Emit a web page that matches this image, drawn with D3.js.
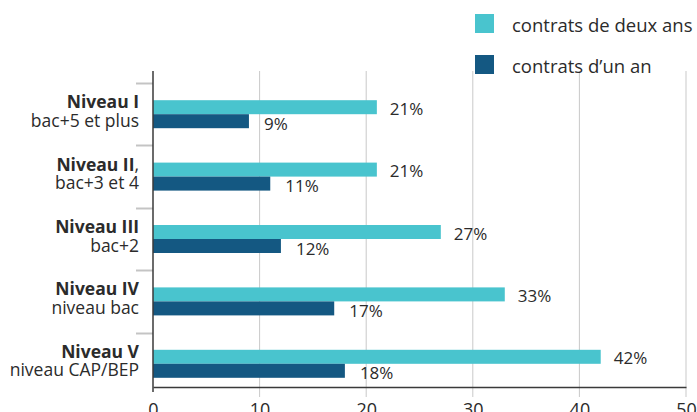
<!DOCTYPE html>
<html>
<head>
<meta charset="utf-8">
<script src="https://cdn.jsdelivr.net/npm/d3@7/dist/d3.min.js"></script>
<style>
  html, body { margin: 0; padding: 0; background: #fff; }
  svg { display: block; font-family: "Open Sans", "Noto Sans", sans-serif; }
</style>
</head>
<body>
<svg id="chart" width="697" height="412"></svg>
<script>
// Niveaux de formation (titre en gras + précision)
const levels = ["Niveau I", "Niveau II", "Niveau III", "Niveau IV", "Niveau V"];
const levelNotes = ["bac+5 et plus", "bac+3 et 4", "bac+2", "niveau bac", "niveau CAP/BEP"];
const levelSuffix = ["", ",", "", "", ""];

// Parts (%) par durée de contrat
const twoYears = [21, 21, 27, 33, 42];
const oneYear = [9, 11, 12, 17, 18];

const seriesNames = ["contrats de deux ans", "contrats d\u2019un an"];
const seriesColors = ["#49c4ce", "#145882"];

const xTicks = [0, 10, 20, 30, 40, 50];

const svg = d3.select("#chart");

const plot = { left: 153, right: 686, top: 71, bottom: 387 };

const x = d3.scaleLinear().domain([0, 50]).range([plot.left, plot.right]);
const y = d3.scaleBand().domain(levels).range([83, 395]);
const barH = 14;

// Vertical grid lines (they also serve as tick marks below the axis)
svg.append("g")
  .selectAll("line")
  .data(xTicks.slice(1))
  .join("line")
  .attr("x1", d => x(d)).attr("x2", d => x(d))
  .attr("y1", plot.top).attr("y2", plot.bottom + 10)
  .attr("stroke", "#c9c9c9").attr("stroke-width", 1);

// Category separators to the left of the y axis
svg.append("g")
  .selectAll("line")
  .data(levels)
  .join("line")
  .attr("x1", plot.left - 17).attr("x2", plot.left)
  .attr("y1", d => Math.round(y(d)) + 0.5).attr("y2", d => Math.round(y(d)) + 0.5)
  .attr("stroke", "#c4c4c4").attr("stroke-width", 2);

// Bars
const rows = levels.map((lv, i) => ({ lv, two: twoYears[i], one: oneYear[i] }));
const g = svg.append("g");
g.selectAll("rect.two")
  .data(rows)
  .join("rect")
  .attr("class", "two")
  .attr("x", x(0))
  .attr("y", d => y(d.lv) + y.bandwidth() / 2 - barH)
  .attr("width", d => x(d.two) - x(0))
  .attr("height", barH)
  .attr("fill", seriesColors[0]);
g.selectAll("rect.one")
  .data(rows)
  .join("rect")
  .attr("class", "one")
  .attr("x", x(0))
  .attr("y", d => y(d.lv) + y.bandwidth() / 2)
  .attr("width", d => x(d.one) - x(0))
  .attr("height", barH)
  .attr("fill", seriesColors[1]);

// Value labels
g.selectAll("text.two")
  .data(rows)
  .join("text")
  .attr("class", "two")
  .attr("x", d => x(d.two) + 13)
  .attr("y", d => y(d.lv) + y.bandwidth() / 2 - barH / 2 + 1)
  .attr("dominant-baseline", "central")
  .attr("font-size", 17)
  .attr("fill", "#2b2b2b")
  .text(d => d.two + "%");
g.selectAll("text.one")
  .data(rows)
  .join("text")
  .attr("class", "one")
  .attr("x", d => x(d.one) + 15)
  .attr("y", d => y(d.lv) + y.bandwidth() / 2 + barH / 2 + 2)
  .attr("dominant-baseline", "central")
  .attr("font-size", 17)
  .attr("fill", "#2b2b2b")
  .text(d => d.one + "%");

// Category labels
const labels = svg.append("g")
  .selectAll("text")
  .data(levels)
  .join("text")
  .attr("text-anchor", "end")
  .attr("font-size", 17.5)
  .attr("fill", "#2b2b2b");
labels.append("tspan")
  .attr("x", 139)
  .attr("y", d => y(d) + y.bandwidth() / 2 - 6)
  .attr("font-weight", "bold")
  .text(d => d)
  .append("tspan")
  .attr("font-weight", "normal")
  .text((d, i) => levelSuffix[levels.indexOf(d)]);
labels.append("tspan")
  .attr("x", 139)
  .attr("y", d => y(d) + y.bandwidth() / 2 + 12.5)
  .text(d => levelNotes[levels.indexOf(d)]);

// X axis
const xAxis = svg.append("g")
  .attr("transform", `translate(0,${plot.bottom})`)
  .call(d3.axisBottom(x).tickValues(xTicks).tickSize(0).tickPadding(16));
xAxis.select(".domain").attr("stroke", "#3a3a3a").attr("stroke-width", 1.5);
xAxis.selectAll("text")
  .attr("font-family", "'Open Sans', sans-serif")
  .attr("font-size", 18)
  .attr("fill", "#2b2b2b");

// Y axis line
svg.append("line")
  .attr("x1", plot.left).attr("x2", plot.left)
  .attr("y1", plot.top).attr("y2", plot.bottom + 5)
  .attr("stroke", "#3a3a3a").attr("stroke-width", 1.5);

// Legend
const legend = svg.append("g")
  .selectAll("g")
  .data(seriesNames)
  .join("g")
  .attr("transform", (d, i) => `translate(475,${14 + i * 41})`);
legend.append("rect")
  .attr("width", 19).attr("height", 19)
  .attr("fill", (d, i) => seriesColors[i]);
legend.append("text")
  .attr("x", 37).attr("y", 17.5)
  .attr("font-size", 18.5)
  .attr("fill", "#2b2b2b")
  .text(d => d);
</script>
</body>
</html>
